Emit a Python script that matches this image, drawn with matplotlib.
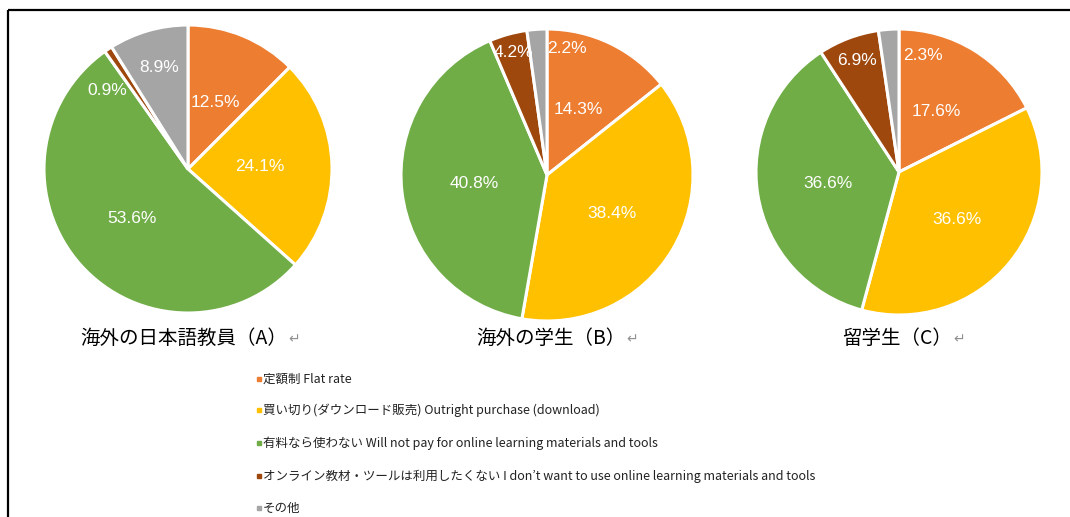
import numpy as np
import matplotlib
matplotlib.use("Agg")
import matplotlib.pyplot as plt

# 回答の分布 (%)
categories = [
    "定額制 Flat rate",
    "買い切り(ダウンロード販売) Outright purchase (download)",
    "有料なら使わない Will not pay for online learning materials and tools",
    "オンライン教材・ツールは利用したくない I don’t want to use online learning materials and tools",
    "その他",
]
colors = ["#ED7D31", "#FFC000", "#70AD47", "#9E480E", "#A5A5A5"]

group_titles = ["海外の日本語教員（A）", "海外の学生（B）", "留学生（C）"]
teachers_abroad = [12.5, 24.1, 53.6, 0.9, 8.9]
students_abroad = [14.3, 38.4, 40.8, 4.2, 2.2]
intl_students = [17.6, 36.6, 36.6, 6.9, 2.3]
series = [teachers_abroad, students_abroad, intl_students]

W, H = 1070, 517
# layout in pixel coords (x, y from top), radius
centers = [(188, 169), (547, 175), (899, 172)]
radii = [144, 146, 143]
label_dist = [[0.5, 0.5, 0.52, 0.78, 0.73],
              [0.5, 0.52, 0.5, 0.87, 0.88],
              [0.5, 0.52, 0.5, 0.83, 0.83]]
label_dtheta = [[0, 0, 0, 12, 0],
                [0, 0, 0, 0, -13],
                [0, 0, 0, 0, -16]]
title_pos = [(80, 338), (476, 338), (842, 338)]

cjk = ["Noto Sans CJK JP", "DejaVu Sans"]
num_font = ["Liberation Sans", "DejaVu Sans"]

fig = plt.figure(figsize=(W / 100, H / 100), dpi=100)
ax = fig.add_axes([0, 0, 1, 1])

for i, vals in enumerate(series):
    cx, cy = centers[i]
    r = radii[i]
    wedges, _ = ax.pie(vals, colors=colors, startangle=90, counterclock=False,
                       center=(cx, H - cy), radius=r,
                       wedgeprops=dict(edgecolor="white", linewidth=2.2))
    for j, w in enumerate(wedges):
        ang = np.deg2rad((w.theta1 + w.theta2) / 2 + label_dtheta[i][j])
        d = label_dist[i][j] * r
        ax.text(cx + d * np.cos(ang), H - cy + d * np.sin(ang), f"{vals[j]:.1f}%",
                ha="center", va="center", color="white", fontsize=12.5,
                family=num_font)
    tx, ty = title_pos[i]
    t = ax.text(tx, H - ty, group_titles[i], ha="left", va="center",
                fontsize=14, family=cjk, color="black")
    ax.annotate("↵", xy=(1, 0.45), xycoords=t, xytext=(1, 0), textcoords="offset points",
                ha="left", va="center", fontsize=10, color="#909090", family=cjk)

# legend
leg_x = 259
leg_y = [379, 410, 443, 476, 508]
for c, lab, y in zip(colors, categories, leg_y):
    ax.plot(leg_x, H - y, marker="s", markersize=2.5, color=c, linestyle="none")
    ax.text(leg_x + 4, H - y, lab, ha="left", va="center", fontsize=9,
            family=cjk, color="#222222")

# frame (top and left lines)
ax.plot([8, W], [H - 10, H - 10], color="black", linewidth=1.6, solid_capstyle="butt")
ax.plot([8, 8], [H - 10, 0], color="black", linewidth=1.6, solid_capstyle="butt")

ax.set_xlim(0, W)
ax.set_ylim(0, H)
ax.set_aspect("auto")
ax.axis("off")

fig.savefig("out.png", dpi=100)
